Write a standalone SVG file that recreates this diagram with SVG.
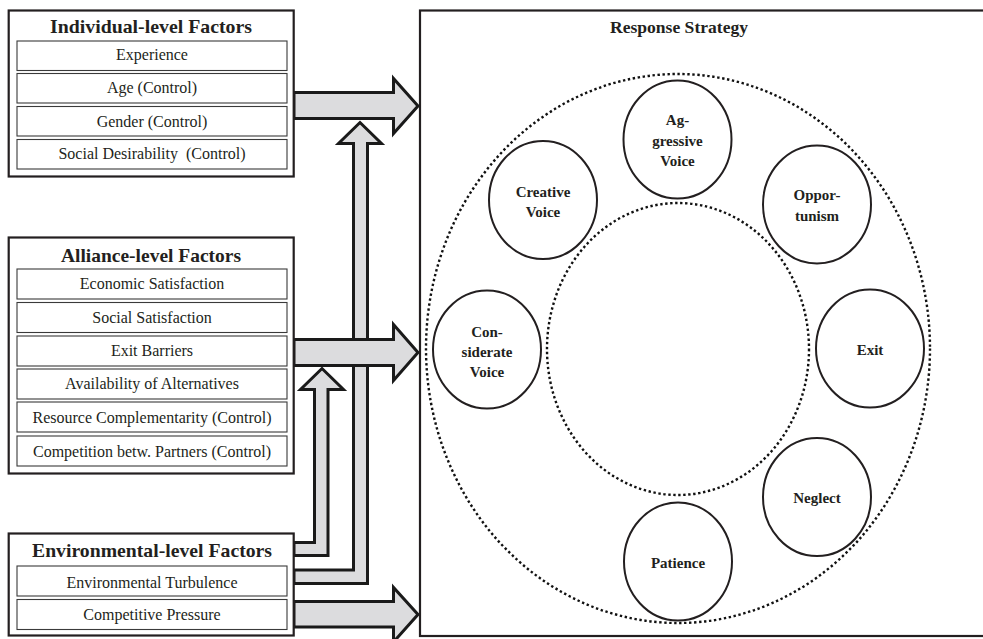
<svg xmlns="http://www.w3.org/2000/svg" width="983" height="639" viewBox="0 0 983 639">
<defs>
<style>
.box{fill:#fff;stroke:#231f20;stroke-width:2.2}
.row{fill:#fff;stroke:#3a3a3a;stroke-width:1.1}
.arrow{fill:#dcdcde;stroke:#1a1a1a;stroke-width:3;stroke-linejoin:miter;stroke-miterlimit:10}
.node{fill:#fff;stroke:#231f20;stroke-width:2}
.dot{fill:none;stroke:#111;stroke-width:2.4;stroke-dasharray:2.4 2.6}
.t{font-size:16px;fill:#231f20;text-anchor:middle}
.h{font-size:19px;font-weight:bold;fill:#231f20;text-anchor:middle}
.n{font-size:15px;font-weight:bold;fill:#231f20;text-anchor:middle}
</style>
</defs>
<rect width="983" height="639" fill="#fff"/>

<g id="connectors">
<polygon class="arrow" points="294,570 353.5,570 353.5,143.5 338.5,143.5 360,122.5 381.5,143.5 367.5,143.5 367.5,583.5 294,583.5"/>
<polygon class="arrow" points="294,542.5 314.5,542.5 314.5,389.5 300.5,389.5 322,368.5 343.5,389.5 328,389.5 328,555.5 294,555.5"/>
<polygon class="arrow" points="294,92.5 393.5,92.5 393.5,78.5 418,106 393.5,133.5 393.5,118.5 294,118.5"/>
<polygon class="arrow" points="294,339.5 393.5,339.5 393.5,324.5 418,352.5 393.5,380.5 393.5,365.5 294,365.5"/>
<polygon class="arrow" points="294,601.5 393.5,601.5 393.5,587.5 418,614.5 393.5,642 393.5,627 294,627"/>
</g>

<g font-family="'Liberation Serif', 'Times New Roman', Times, serif">
<g id="individual">
<rect class="box" x="8.7" y="10.5" width="285" height="166"/>
<text class="h" x="151" y="33" textLength="202" lengthAdjust="spacingAndGlyphs">Individual-level Factors</text>
<rect class="row" x="17" y="41" width="270" height="29.5"/>
<text class="t" x="152" y="60">Experience</text>
<rect class="row" x="17" y="73.5" width="270" height="29.5"/>
<text class="t" x="152" y="93">Age (Control)</text>
<rect class="row" x="17" y="106.5" width="270" height="29.5"/>
<text class="t" x="152" y="126.5">Gender (Control)</text>
<rect class="row" x="17" y="139.5" width="270" height="29.5"/>
<text class="t" x="152" y="159" xml:space="preserve">Social Desirability  (Control)</text>
</g>

<g id="alliance">
<rect class="box" x="8.7" y="237.5" width="285" height="236"/>
<text class="h" x="151" y="262" textLength="180" lengthAdjust="spacingAndGlyphs">Alliance-level Factors</text>
<rect class="row" x="17" y="269" width="270" height="30"/>
<text class="t" x="152" y="289">Economic Satisfaction</text>
<rect class="row" x="17" y="302.5" width="270" height="30"/>
<text class="t" x="152" y="322.5">Social Satisfaction</text>
<rect class="row" x="17" y="336" width="270" height="30"/>
<text class="t" x="152" y="356">Exit Barriers</text>
<rect class="row" x="17" y="369" width="270" height="30"/>
<text class="t" x="152" y="389">Availability of Alternatives</text>
<rect class="row" x="17" y="402" width="270" height="30"/>
<text class="t" x="152" y="422.5">Resource Complementarity (Control)</text>
<rect class="row" x="17" y="436" width="270" height="30"/>
<text class="t" x="152" y="456.5">Competition betw. Partners (Control)</text>
</g>

<g id="environmental">
<rect class="box" x="8.7" y="533.5" width="285" height="102"/>
<text class="h" x="152" y="557" textLength="240" lengthAdjust="spacingAndGlyphs">Environmental-level Factors</text>
<rect class="row" x="17" y="566" width="270" height="30"/>
<text class="t" x="152" y="587.5">Environmental Turbulence</text>
<rect class="row" x="17" y="599.5" width="270" height="30"/>
<text class="t" x="152" y="620">Competitive Pressure</text>
</g>

<g id="response">
<rect class="box" x="420" y="10.5" width="600" height="625.5"/>
<text class="h" x="679" y="33" style="font-size:17.5px" textLength="138" lengthAdjust="spacingAndGlyphs">Response Strategy</text>
<ellipse class="dot" cx="678" cy="348.5" rx="252" ry="274.5"/>
<ellipse class="dot" cx="678" cy="349" rx="131" ry="146"/>
</g>

<g id="aggressive-voice">
<ellipse class="node" cx="677.5" cy="139.5" rx="54" ry="59"/>
<text class="n" x="677.5" y="125">Ag-</text>
<text class="n" x="677.5" y="146">gressive</text>
<text class="n" x="677.5" y="166">Voice</text>
</g>
<g id="creative-voice">
<ellipse class="node" cx="543" cy="200" rx="54" ry="59"/>
<text class="n" x="543" y="197">Creative</text>
<text class="n" x="543" y="217">Voice</text>
</g>
<g id="opportunism">
<ellipse class="node" cx="817" cy="204.5" rx="54" ry="59"/>
<text class="n" x="817" y="200">Oppor-</text>
<text class="n" x="817" y="221">tunism</text>
</g>
<g id="considerate-voice">
<ellipse class="node" cx="487" cy="349.5" rx="54" ry="59"/>
<text class="n" x="487" y="337">Con-</text>
<text class="n" x="487" y="357">siderate</text>
<text class="n" x="487" y="377">Voice</text>
</g>
<g id="exit">
<ellipse class="node" cx="870" cy="348.5" rx="54" ry="59"/>
<text class="n" x="870" y="355">Exit</text>
</g>
<g id="neglect">
<ellipse class="node" cx="817" cy="497" rx="54" ry="59"/>
<text class="n" x="817" y="503">Neglect</text>
</g>
<g id="patience">
<ellipse class="node" cx="678" cy="561.5" rx="54" ry="59"/>
<text class="n" x="678" y="568">Patience</text>
</g>
</g>
</svg>
